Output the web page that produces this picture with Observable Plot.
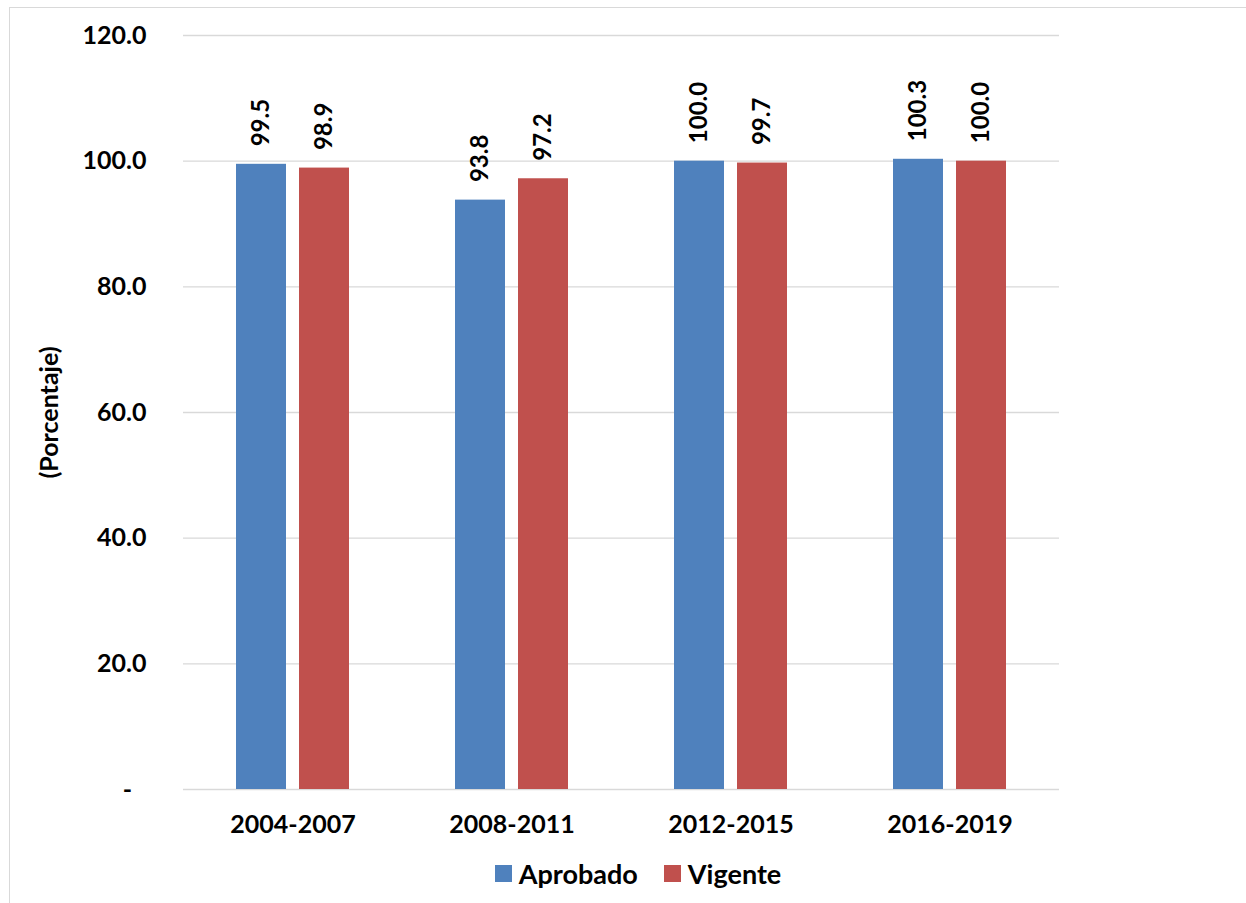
<!DOCTYPE html>
<html>
<head>
<meta charset="utf-8">
<script src="https://cdn.jsdelivr.net/npm/d3@7"></script>
<script src="https://cdn.jsdelivr.net/npm/@observablehq/plot@0.6"></script>
<style>
  html, body { margin: 0; padding: 0; background: #fff; }
  body { width: 1246px; height: 903px; position: relative; overflow: hidden; font-family: Lato, "Open Sans", sans-serif; }
  #frame { position: absolute; left: 9px; top: 7px; width: 1260px; height: 920px; border: 1.3px solid #d9d9d9; box-sizing: border-box; }
  #chart { position: absolute; left: 0; top: 0; }
  #legend { position: absolute; top: 857px; left: 0; width: 1246px; display: flex; justify-content: center; padding-left: 30px; box-sizing: border-box;
            font-weight: bold; font-size: 27px; color: #000; align-items: center; }
  .item { display: flex; align-items: center; margin: 0 13px; }
  .sw { width: 17px; height: 17px; margin-right: 7px; }
</style>
</head>
<body>
<div id="frame"></div>
<div id="chart"></div>
<div id="legend"></div>
<script>
const periods = ["2004-2007", "2008-2011", "2012-2015", "2016-2019"];
const series = ["Aprobado", "Vigente"];
const aprobado = [99.5, 93.8, 100.0, 100.3];
const vigente = [98.9, 97.2, 99.7, 100.0];
const colors = ["#4F81BD", "#C0504D"];
const yTicks = [0, 20, 40, 60, 80, 100, 120];

const data = [];
periods.forEach((p, i) => {
  data.push({period: p, series: series[0], value: aprobado[i]});
  data.push({period: p, series: series[1], value: vigente[i]});
});

const chart = Plot.plot({
  width: 1246,
  height: 850,
  marginLeft: 183,
  marginRight: 187,
  marginTop: 35,
  marginBottom: 61,
  style: {fontFamily: "Lato, 'Open Sans', sans-serif", fontWeight: "bold", color: "#000", background: "transparent"},
  fx: {domain: periods, padding: 0, label: null},
  x: {domain: series, paddingInner: 0.206, paddingOuter: 0.841, axis: null},
  y: {domain: [0, 120]},
  color: {domain: series, range: colors},
  marks: [
    Plot.gridY(yTicks, {stroke: "#d9d9d9", strokeOpacity: 1, strokeWidth: 1.3}),
    Plot.axisY({
      ticks: yTicks,
      tickFormat: d => d === 0 ? "-\u2007" : d.toFixed(1),
      tickSize: 0,
      tickPadding: 37,
      fontSize: 25,
      fontWeight: "bold",
      label: "(Porcentaje)",
      labelArrow: false,
      labelAnchor: "center",
      labelOffset: 143
    }),
    Plot.barY(data, {fx: "period", x: "series", y: "value", fill: "series"}),
    Plot.text(data, {
      fx: "period", x: "series", y: "value",
      text: d => d.value.toFixed(1),
      rotate: -90, textAnchor: "start", dy: -18,
      fontSize: 24, fontWeight: "bold", fill: "#000"
    }),
    Plot.axisFx({anchor: "bottom", tickSize: 0, tickPadding: 26, fontSize: 25, fontWeight: "bold", label: null})
  ]
});
document.getElementById("chart").appendChild(chart);

const legend = document.getElementById("legend");
series.forEach((s, i) => {
  const item = document.createElement("div");
  item.className = "item";
  const sw = document.createElement("div");
  sw.className = "sw";
  sw.style.background = colors[i];
  const t = document.createElement("span");
  t.textContent = s;
  item.appendChild(sw);
  item.appendChild(t);
  legend.appendChild(item);
});
</script>
</body>
</html>
